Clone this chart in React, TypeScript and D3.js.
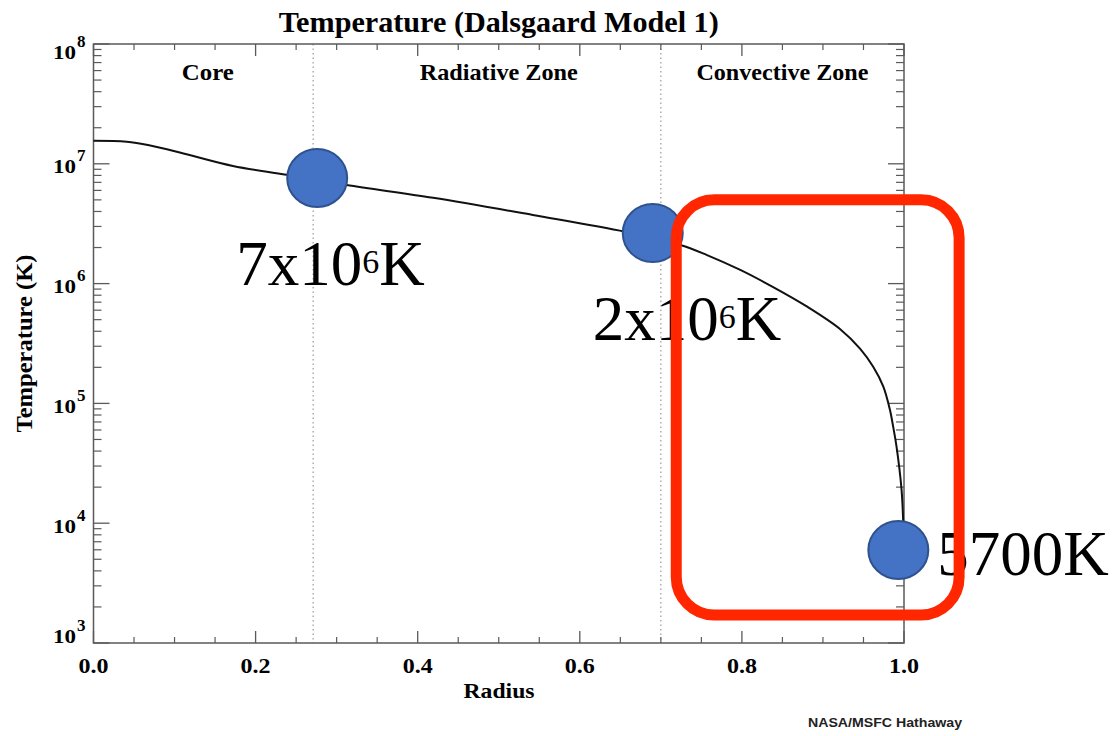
import React from 'react';
import * as d3 from 'd3';

// temperature profile (radius in solar radii, temperature in K)
const radius = [0, 0.041, 0.07, 0.111, 0.172, 0.238, 0.312, 0.419, 0.542, 0.656, 0.724, 0.757,
  0.798, 0.838, 0.88, 0.921, 0.946, 0.962, 0.9745, 0.9827, 0.9868, 0.9907, 0.997, 0.999, 1.0];
const temperature = [1.56e7, 1.53e7, 1.42e7, 1.22e7, 9.6e6, 8.1e6, 6.65e6, 5.2e6, 3.74e6, 2.71e6,
  2.1e6, 1.73e6, 1.3e6, 9.4e5, 6.45e5, 4.18e5, 2.85e5, 2.02e5, 1.38e5, 8.8e4, 6.3e4, 4.4e4, 1.9e4,
  1.03e4, 5.8e3];

// zone boundaries and the zone names
const boundaries = [0.271, 0.7];
const zoneNames = ['Core', 'Radiative Zone', 'Convective Zone'];
const zoneCenters = [0.141, 0.5, 0.85];

// the three marked points
const markerRadius = [0.276, 0.69, 0.993];
const markerTemp = [7.6e6, 2.64e6, 5.97e3];
const markerText = ['7x10', '2x10', '5700K'];
const markerSup = ['6', '6', ''];

// highlight box around the convective zone (data coords)
const boxRadius = [0.719, 1.068];
const boxTemp = [5.0e6, 1.71e3];

const xTicks = [0, 0.2, 0.4, 0.6, 0.8, 1.0];
const yDecades = [3, 4, 5, 6, 7, 8];

const width = 1116;
const height = 736;
const serif = '"Liberation Serif", "Times New Roman", serif';

export default function App() {
  const x = d3.scaleLinear().domain([0, 1]).range([93.5, 904]);
  const y = d3.scaleLog().domain([1e3, 1e8]).range([643, 44]);
  const [x0, x1] = x.range();
  const [y0, y1] = y.range();

  const line = d3.line<number>()
    .x((_, i) => x(radius[i]))
    .y(d => y(d))
    .curve(d3.curveCatmullRom.alpha(0.5));

  const minorX = d3.range(0, 1.0001, 0.05).filter(v => Math.abs(v * 5 - Math.round(v * 5)) > 1e-6);
  const minorY: number[] = [];
  yDecades.slice(0, -1).forEach(e => {
    for (let k = 2; k <= 9; k++) minorY.push(k * Math.pow(10, e));
  });

  // where the big labels sit relative to their marker
  const labelOffsets = [[-81, 107], [-60, 107], [39, 25]];

  const axisColor = '#5a5a5a';

  return (
    <svg width={width} height={height} style={{position: 'absolute', left: 0, top: 0, background: '#fff'}}>
      <text x={(x0 + x1) / 2} y={32} textAnchor="middle" fontFamily={serif} fontWeight="bold"
        fontSize={29} textLength={440} lengthAdjust="spacingAndGlyphs">
        Temperature (Dalsgaard Model 1)
      </text>

      {/* zone boundaries */}
      {boundaries.map(b => (
        <line key={b} x1={x(b)} x2={x(b)} y1={y1} y2={y0} stroke="#9a9a9a" strokeWidth={1.2}
          strokeDasharray="1.5 3" />
      ))}

      {zoneNames.map((name, i) => (
        <text key={name} x={x(zoneCenters[i])} y={80} textAnchor="middle" fontFamily={serif}
          fontWeight="bold" fontSize={23} textLength={[52, 158, 172][i]} lengthAdjust="spacingAndGlyphs">
          {name}
        </text>
      ))}

      {/* frame */}
      <rect x={x0} y={y1} width={x1 - x0} height={y0 - y1} fill="none" stroke={axisColor} strokeWidth={1.5} />

      {/* x ticks, bottom and top */}
      {xTicks.map(t => (
        <g key={'xt' + t} stroke={axisColor} strokeWidth={1.3}>
          <line x1={x(t)} x2={x(t)} y1={y0} y2={y0 - 12} />
          <line x1={x(t)} x2={x(t)} y1={y1} y2={y1 + 12} />
        </g>
      ))}
      {minorX.map(t => (
        <g key={'xm' + t} stroke={axisColor} strokeWidth={1.2}>
          <line x1={x(t)} x2={x(t)} y1={y0} y2={y0 - 6} />
          <line x1={x(t)} x2={x(t)} y1={y1} y2={y1 + 6} />
        </g>
      ))}
      {xTicks.map(t => (
        <text key={'xl' + t} x={x(t)} y={673} textAnchor="middle" fontFamily={serif} fontWeight="bold"
          fontSize={20} textLength={30} lengthAdjust="spacingAndGlyphs">
          {d3.format('.1f')(t)}
        </text>
      ))}

      {/* y ticks, left and right */}
      {yDecades.map(e => {
        const v = Math.pow(10, e);
        return (
          <g key={'yt' + e} stroke={axisColor} strokeWidth={1.3}>
            <line x1={x0} x2={x0 + 16} y1={y(v)} y2={y(v)} />
            <line x1={x1} x2={x1 - 16} y1={y(v)} y2={y(v)} />
          </g>
        );
      })}
      {minorY.map(v => (
        <g key={'ym' + v} stroke={axisColor} strokeWidth={1.2}>
          <line x1={x0} x2={x0 + 8} y1={y(v)} y2={y(v)} />
          <line x1={x1} x2={x1 - 8} y1={y(v)} y2={y(v)} />
        </g>
      ))}
      {yDecades.map((e, i) => {
        const base = y(Math.pow(10, e)) + (i === 0 ? 0 : i === yDecades.length - 1 ? 15 : 9.5);
        return (
          <g key={'yl' + e} fontFamily={serif} fontWeight="bold">
            <text x={76} y={base} textAnchor="end" fontSize={18} textLength={23} lengthAdjust="spacingAndGlyphs">10</text>
            <text x={77} y={base - 12} fontSize={17}>{e}</text>
          </g>
        );
      })}

      <text transform={`translate(32, ${(y0 + y1) / 2}) rotate(-90)`} textAnchor="middle" fontFamily={serif}
        fontWeight="bold" fontSize={23.5} textLength={178} lengthAdjust="spacingAndGlyphs">
        Temperature (K)
      </text>
      <text x={499} y={698} textAnchor="middle" fontFamily={serif} fontWeight="bold" fontSize={22}
        textLength={71} lengthAdjust="spacingAndGlyphs">
        Radius
      </text>

      {/* temperature curve */}
      <path d={line(temperature) || ''} fill="none" stroke="#111" strokeWidth={2} />

      {/* markers */}
      {markerRadius.map((r, i) => (
        <ellipse key={'m' + i} cx={x(r)} cy={y(markerTemp[i])} rx={30} ry={29} fill="#4472c4"
          stroke="#2f528f" strokeWidth={2} />
      ))}
      {markerRadius.map((r, i) => (
        <text key={'ml' + i} x={x(r) + labelOffsets[i][0]} y={y(markerTemp[i]) + labelOffsets[i][1]}
          fontFamily={serif} fontSize={63} fill="#000">
          {markerText[i]}
          {markerSup[i] && <tspan dy={-12} fontSize={34}>{markerSup[i]}</tspan>}
          {markerSup[i] && <tspan dy={12}>K</tspan>}
        </text>
      ))}

      {/* highlight box */}
      <rect x={x(boxRadius[0])} y={y(boxTemp[0])} width={x(boxRadius[1]) - x(boxRadius[0])}
        height={y(boxTemp[1]) - y(boxTemp[0])} rx={38} ry={38} fill="none" stroke="#ff2600" strokeWidth={11} />

      <text x={808} y={727} fontFamily='"Liberation Sans", Arial, sans-serif' fontWeight="bold" fontSize={13}
        fill="#222" textLength={154} lengthAdjust="spacingAndGlyphs">
        NASA/MSFC Hathaway
      </text>
    </svg>
  );
}
